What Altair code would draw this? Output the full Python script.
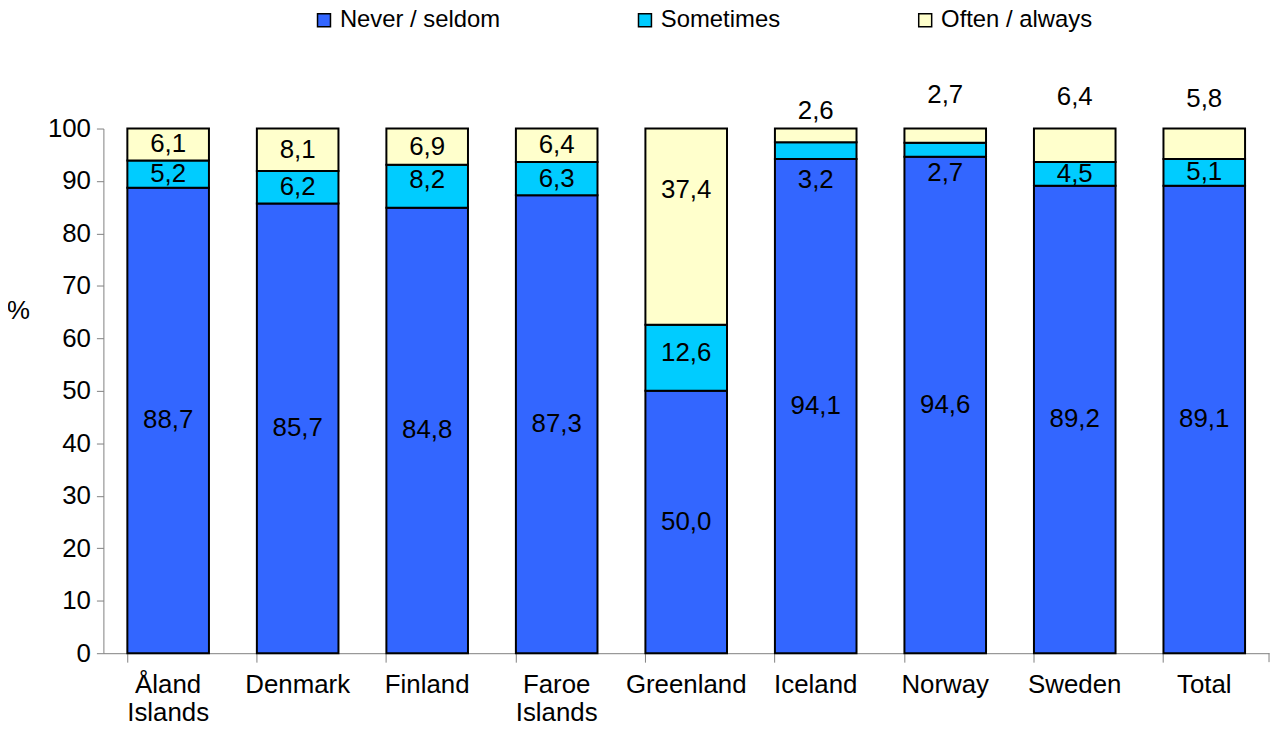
import altair as alt
import pandas as pd

countries = ["Åland Islands", "Denmark", "Finland", "Faroe Islands", "Greenland",
             "Iceland", "Norway", "Sweden", "Total"]
series = ["Never / seldom", "Sometimes", "Often / always"]
never = [88.7, 85.7, 84.8, 87.3, 50.0, 94.1, 94.6, 89.2, 89.1]
sometimes = [5.2, 6.2, 8.2, 6.3, 12.6, 3.2, 2.7, 4.5, 5.1]
often = [6.1, 8.1, 6.9, 6.4, 37.4, 2.6, 2.7, 6.4, 5.8]
colors = ["#3366FF", "#00CCFF", "#FFFFCC"]

# label placements (percent units) where Excel did not centre the label
label_override = {
    ("Iceland", "Often / always"): 103.4,
    ("Norway", "Often / always"): 106.3,
    ("Sweden", "Often / always"): 106.0,
    ("Total", "Often / always"): 105.7,
    ("Iceland", "Sometimes"): 90.1,
    ("Norway", "Sometimes"): 91.6,
    ("Greenland", "Often / always"): 88.2,
    ("Greenland", "Sometimes"): 57.3,
    ("Finland", "Sometimes"): 90.1,
}

rows = []
for i, c in enumerate(countries):
    vals = [never[i], sometimes[i], often[i]]
    tot = sum(vals)
    cum = 0.0
    for k, s in enumerate(series):
        v = vals[k]
        mid = (cum + v / 2) / tot
        cum += v
        ly = label_override.get((c, s), mid * 100) / 100
        rows.append({"country": c, "series": s, "order": k, "value": v,
                     "label": f"{v:.1f}".replace(".", ","), "ly": ly})
df = pd.DataFrame(rows)

W, H = 1173, 528
FONT = "Liberation Sans"
FS = 26

xenc = alt.X("country:N", sort=countries, title=None,
             scale=alt.Scale(paddingInner=0.37, paddingOuter=0.185),
             axis=alt.Axis(bandPosition=0, labelExpr="split(datum.label, ' ')",
                           labelAngle=0, labelFontSize=FS, labelFont=FONT, labelColor="black",
                           labelPadding=10, tickSize=9, tickColor="#808080", domainColor="#808080",
                           labelLineHeight=28, labelLimit=300, grid=False))

bars = alt.Chart(df).mark_bar(stroke="black", strokeWidth=2, opacity=1).encode(
    x=xenc,
    y=alt.Y("value:Q", stack="normalize", title="%",
            scale=alt.Scale(domain=[0, 1]),
            axis=alt.Axis(values=[i / 10 for i in range(11)],
                          labelExpr="format(datum.value*100, 'd')",
                          labelFontSize=FS, labelFont=FONT, labelColor="black", labelPadding=6,
                          tickSize=7, tickColor="#808080", domainColor="#808080", grid=False,
                          titleAngle=0, titleFontSize=FS, titleFont=FONT, titleFontWeight="normal",
                          titleX=-86, titleY=183, titleAlign="center", titleBaseline="middle")),
    color=alt.Color("series:N", sort=series,
                    scale=alt.Scale(domain=series, range=colors),
                    legend=alt.Legend(title=None, orient="none", direction="horizontal",
                                      legendX=210, legendY=-121, padding=0,
                                      labelFontSize=24, labelFont=FONT, labelColor="black",
                                      labelLimit=400,
                                      symbolType="square", symbolSize=170, symbolStrokeWidth=1.5,
                                      symbolStrokeColor="black", symbolOpacity=1,
                                      labelOffset=4, columnPadding=133)),
    order=alt.Order("order:Q"),
)

labels = alt.Chart(df).mark_text(fontSize=FS, font=FONT, color="black", baseline="middle").encode(
    x=alt.X("country:N", sort=countries),
    y=alt.Y("ly:Q"),
    text="label:N",
)

end_tick = alt.Chart(pd.DataFrame({"k": [0]})).mark_rule(color="#808080").encode(
    x=alt.value(W), y=alt.value(H), y2=alt.value(H + 9))

chart = alt.layer(bars, labels, end_tick).properties(
    width=W, height=H,
    autosize=alt.AutoSizeParams(type="none"),
    padding={"left": 96, "top": 119, "right": 3, "bottom": 76},
).configure_view(stroke=None)

chart.save("out.html", embed_options={"renderer": "svg", "actions": False})
